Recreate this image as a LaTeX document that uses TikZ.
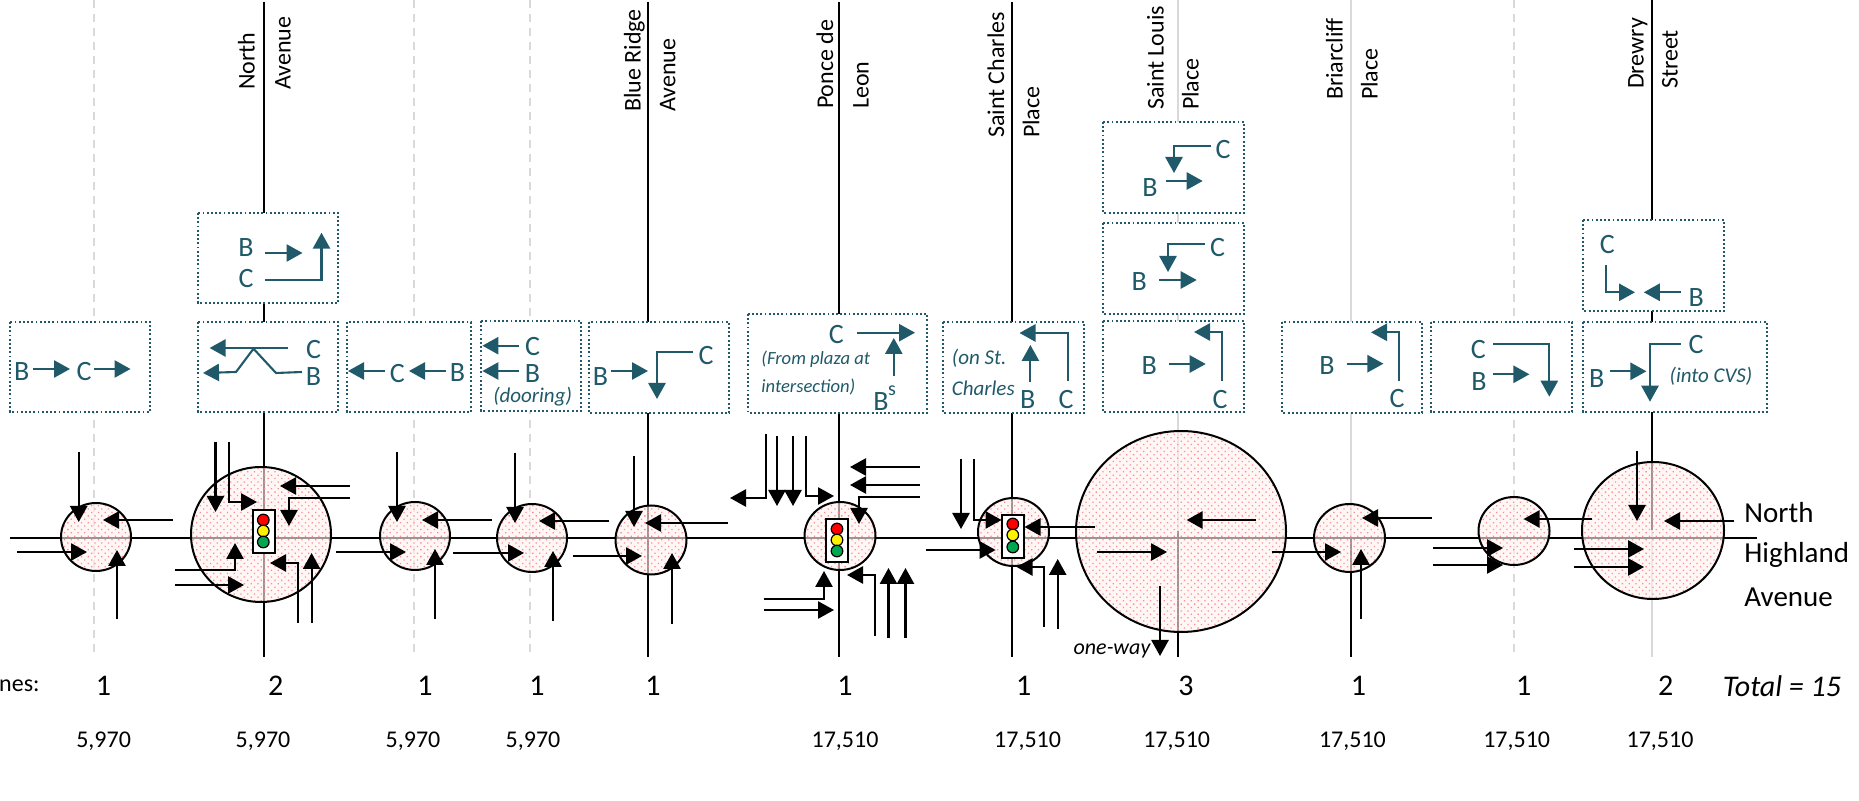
\documentclass[tikz,border=0pt]{standalone}
\usepackage{fontspec}
\setmainfont{Carlito}
\usetikzlibrary{arrows.meta,patterns.meta}
\definecolor{tealmark}{HTML}{205A6A}
\definecolor{faint}{HTML}{D9D9D9}
\definecolor{signalgreen}{HTML}{00A650}
\tikzset{
  flow/.style={line width=1.05pt, -{Triangle[length=8pt,width=8.6pt]}},
  tflow/.style={flow, draw=tealmark},
  hub/.style={preaction={fill=red!6, fill opacity=.62}, draw=black, line width=1pt,
    pattern={Dots[radius=.45pt,distance=2.4pt,angle=45]}, pattern color=red!45},
  mvbox/.style={draw=tealmark, fill=white, line width=.95pt, dash pattern=on .95pt off 1.15pt},
  mv/.style={text=tealmark, inner sep=0pt, text height=9pt, text depth=0pt, font=\fontsize{14}{16}\selectfont},
  note/.style={text=tealmark, inner sep=0pt, font=\fontsize{10.5}{12}\selectfont\itshape},
  smallnote/.style={note, anchor=west, font=\fontsize{9.3}{11}\selectfont\itshape},
  roadtag/.style={rotate=90, anchor=west, inner sep=0pt, xshift=-1.2pt, text height=7.7pt, text depth=0pt, font=\fontsize{12}{14}\selectfont},
  lanes/.style={inner sep=0pt, font=\fontsize{15}{17}\selectfont},
  vol/.style={inner sep=0pt, font=\fontsize{12}{14}\selectfont},
}
\begin{document}
\begin{tikzpicture}[x=.5pt,y=-.5pt]
  \useasboundingbox (0,0) rectangle (1859,801);
  % Unsignalised cross streets
  \foreach \x in {94,413.5,530,1514}
    \draw[faint, line width=1pt, dash pattern=on 4pt off 3pt] (\x,0) -- (\x,653);
  % Cross streets
  \foreach \x in {264,648,839,1012}
    \draw[line width=.95pt] (\x,2) -- (\x,657);
  \draw[faint, line width=1pt] (1178,0) -- (1178,531);
  \draw[line width=.95pt] (1178,531) -- (1178,657);
  \draw[faint, line width=1pt] (1351,0) -- (1351,538);
  \draw[line width=.95pt] (1351,538) -- (1351,657);
  \draw[line width=.95pt] (1652,0) -- (1652,530);
  \draw[faint, line width=1pt] (1652,530) -- (1652,657);
  % Corridor
  \draw[line width=1pt] (9.5,538) -- (1756.5,538);
  % Crash circles
  \foreach \x/\y/\ra/\rb in {96/537/35/34, 261/534.5/70/67.5, 415/536/35/34, 532/538/35/34,
      651/540/35.5/34.5, 840/536/35.5/34, 1013.5/532/35.5/34, 1181/531.5/105/100.5,
      1349.5/538/35.5/34, 1514/531/35.5/34, 1653/530.5/71/68.5}
    \draw[hub] (\x,\y) ellipse [x radius=\ra, y radius=\rb];
  % Signals
  \foreach \x/\y/\lx/\ya/\yb/\yc in {263.5/510/263.3/520/531/542, 837/519/837/529/540/551, 1013/515/1012.8/524/535/547}{
    \draw[fill=white, line width=1pt] (\x-11,\y) rectangle (\x+11,\y+43);
    \draw[fill=red, line width=.6pt] (\lx,\ya) circle (5.8);
    \draw[fill=yellow, line width=.6pt] (\lx,\yb) circle (5.8);
    \draw[fill=signalgreen, line width=.6pt] (\lx,\yc) circle (5.8);
  }
  % Movement boxes
  \foreach \xa/\ya/\xb/\yb in {10/322/150/412, 198/213/338/303, 198/322/338/412, 347/322/471/412,
      481/321/581/411, 589/322/729/413, 748/314/927/413, 943/322/1084/413, 1103/122/1244/213,
      1103/223/1244/314, 1103/321/1244/412, 1282/322/1422/413, 1431/322/1572/412,
      1583/220/1724/311, 1583/322/1767/412}
    \draw[mvbox] (\xa,\ya) rectangle (\xb,\yb);
  % Approach arrows, straight
  \foreach \xa/\ya/\xb/\yb in {78.7/452/78.7/522, 173/520/103/520, 17/552/87/552, 117/619/117/550,
      215.5/442/215.5/512, 350/486/280/486, 175/585/244/585, 311.6/623/311.6/553,
      397/452/397/522, 491.5/520/422/520, 336/552/406/552, 435/619/435/549,
      515/453/515/523, 609/521/539/521, 453/553/524/553, 553/621/553/551,
      634/456/634/527, 728/523/645/523, 572.5/556/642/556, 672/624/672/553,
      777/436/777/506, 793/436/793/506, 920/467/850/467, 920/485/850/485,
      763.5/610/834/610, 888.5/638/888.5/568, 905.5/638/905.5/568,
      961/459/961/529, 1094.5/527/1024.5/527, 926/550/995.6/550, 1057.7/629/1057.7/559,
      1256/520/1186.6/520, 1097/552/1167/552, 1160/586/1160/656,
      1271.5/552/1341/552, 1432/518/1362/518, 1361/619/1361/549,
      1592/519/1523.6/519, 1433/548/1503/548, 1433/565/1503/565,
      1637/451/1637/521, 1734/521/1664/521, 1574/549/1644/549, 1574/567/1644/567}
    \draw[flow] (\xa,\ya) -- (\xb,\yb);
  % Approach arrows, turning
  \foreach \xa/\ya/\xb/\yb/\xc/\yc in {229/442/229/502/257/502, 350/498/289/498/289/526,
      175/570/235/570/235/543, 298/623/298/563/270/563, 766/434/766/498/730/498,
      806/436/806/496/834/496, 920/497/859/497/859/524, 763.5/599/824/599/824/571,
      875/636/875/575/847/575, 974/459/974/520/1001.5/520, 1044/627/1044/567/1016.6/567}
    \draw[flow] (\xa,\ya) -- (\xb,\yb) -- (\xc,\yc);
  % Box arrows, straight
  \foreach \xa/\ya/\xb/\yb in {33/369/70/369, 94/369/130.5/369, 265/253/302.5/253,
      287.5/348/209.6/348, 384.7/371/348/371, 445.6/371/409/371, 519/345.7/482.4/345.7,
      519/371/482.4/371, 611/371/648/371, 857/332.7/915/332.7, 893.8/376/893.8/338,
      1030.4/381.7/1030.4/345, 1166/181/1202.7/181, 1159/280/1196.7/280, 1168.7/364/1205.7/364,
      1346.6/363.7/1383.4/363.7, 1493/374.3/1529.4/374.3, 1680.6/292.3/1643.8/292.3,
      1609.6/371.3/1646.4/371.3}
    \draw[tflow] (\xa,\ya) -- (\xb,\yb);
  % Box arrows, turning
  \foreach \xa/\ya/\xb/\yb/\xc/\yc in {265/280/321.5/280/321.5/232.7, 693.4/352/657/352/657/399,
      1067.6/380.7/1067.6/333/1019.5/333, 1211/145.7/1174/145.7/1174/173, 1205/244/1168/244/1168/272,
      1222.3/381/1222.3/332/1194/332, 1399.4/381/1399.4/332.3/1371/332.3,
      1493/344.3/1549.3/344.3/1549.3/396.7, 1606.3/265.3/1606.3/292.3/1635/292.3,
      1680.6/344/1650/344/1650/401.7}
    \draw[tflow] (\xa,\ya) -- (\xb,\yb) -- (\xc,\yc);
  \draw[tflow] (302,372) -- (276,373) -- (253.5,348.7) -- (236,372) -- (203,373);
  % Vehicles in the boxes
  \foreach \x/\y/\t [count=\i] in {21.7/372/B, 84/372/C, 246/248/B, 246/279/C, 313.6/350/C, 313.6/377/B,
      397.4/374/C, 457.5/373/B, 532.6/346.7/C, 532.6/374/B, 600.6/377/B, 706/355.7/C,
      836.4/335/C, 881/401.7/B, 1027.8/400/B, 1066/400/C, 1223/150/C, 1150/188/B,
      1217.7/247.7/C, 1139.3/282/B, 1149.3/366/B, 1220/400/C, 1327/366/B, 1397/399/C,
      1478.3/350/C, 1479/381.7/B, 1607.3/244.3/C, 1696.2/297.3/B, 1696/345/C, 1596.7/378.3/B}
    \node[mv] (veh\i) at (\x,\y) {\t};
  \node[mv, font=\fontsize{10}{12}\selectfont, text height=4.5pt] (vehS) at (892,390.7) {s};
  % Notes in the boxes
  \node[note] (ntDoor) at (532.6,397) {(dooring)};
  \node[smallnote] (ntPlaza) at (761,359) {(From plaza at};
  \node[smallnote] (ntInter) at (761,387) {intersection)};
  \node[note, anchor=west] (ntOn) at (951.5,358) {(on St.};
  \node[note, anchor=west] (ntChar) at (951.5,388) {Charles};
  \node[note] (ntCvs) at (1711,376.7) {(into CVS)};
  \node[inner sep=0pt, font=\fontsize{11}{13}\selectfont\itshape] (ntOneway) at (1112,651) {one-way};
  % Cross street names
  \foreach \x/\y/\t [count=\i] in {247/88/North, 283/88/Avenue, 633/110/Blue Ridge, 667.6/110/Avenue,
      825.5/107/Ponce de, 861/107/Leon, 996.5/136/Saint Charles, 1031.7/136/Place, 1156/108/Saint Louis,
      1191/108/Place, 1335/98/Briarcliff, 1370/98/Place, 1636/87/Drewry, 1670/87/Street}
    \node[roadtag] (road\i) at (\x,\y) {\t};
  % Corridor name
  \foreach \y/\t [count=\i] in {513/North, 555/Highland, 597/Avenue}
    \node[anchor=west, inner sep=0pt, font=\fontsize{14.5}{17}\selectfont] (main\i) at (1744,\y) {\t};
  % Lane counts
  \node[lanes, anchor=east, font=\fontsize{12}{14}\selectfont] (lnHead) at (40,686) {nes:};
  \foreach \x/\t [count=\i] in {103.6/1, 275.6/2, 425/1, 537/1, 653/1, 845/1, 1023.7/1, 1186/3, 1358.5/1, 1523.6/1, 1665.6/2}
    \node[lanes] (ln\i) at (\x,686) {\t};
  \node[lanes, font=\fontsize{15}{17}\selectfont\itshape] (lnTotal) at (1782,686) {Total = 15};
  % Volumes
  \foreach \x/\t [count=\i] in {103.6/{5,970}, 263/{5,970}, 413/{5,970}, 533/{5,970}, 845/{17,510}, 1027.6/{17,510},
      1176.7/{17,510}, 1352.4/{17,510}, 1516.7/{17,510}, 1660/{17,510}}
    \node[vol] (vol\i) at (\x,741) {\t};
\end{tikzpicture}
\end{document}
